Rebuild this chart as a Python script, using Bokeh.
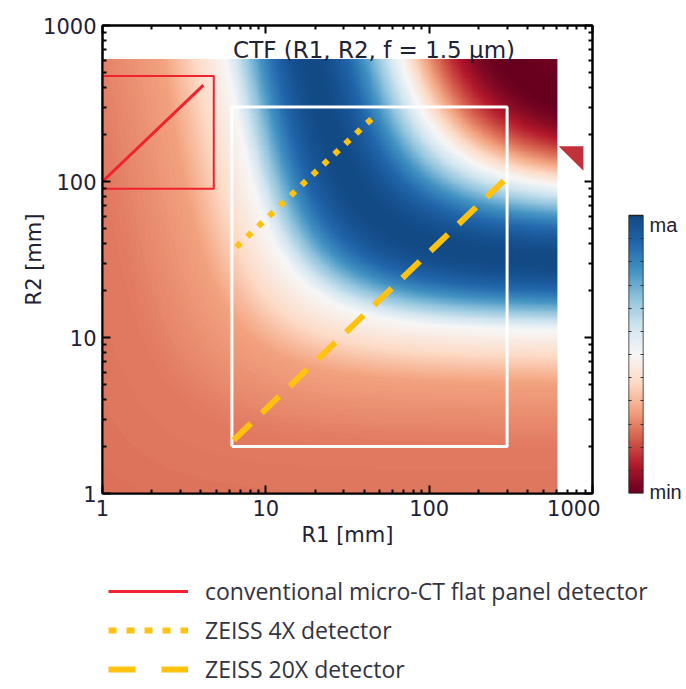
import numpy as np
from bokeh.plotting import figure
from bokeh.layouts import column, row
from bokeh.models import (LogAxis, LinearAxis, FixedTicker, NumeralTickFormatter, LinearColorMapper,
                          Legend, LegendItem, Range1d, Label)
from bokeh.embed import file_html
from bokeh.resources import INLINE

# ---------------- data ----------------
AXIS_TICKS = [1, 10, 100, 1000]
AXIS_MINOR = [m * 10 ** d for d in range(3) for m in range(2, 10)]
R_MIN, R_MAX = 1.0, 610.0

# CTF phase model: log10(z_eff * M^p) -> phase (knots)
MAG_EXP = 0.14
PHASE_U = [-0.5, 0.3, 0.7, 1.035, 1.477, 1.919, 2.361, 2.75]
PHASE_PSI = [-0.60, -0.55, -0.42, 0.0, 1.571, 3.142, 4.712, 5.4]

# detector regions / lines (R1, R2 in mm)
flat_box_r1 = [1, 4.8, 4.8, 1, 1]
flat_box_r2 = [90, 90, 475, 475, 90]
flat_line_r1 = [1, 4.15]
flat_line_r2 = [100, 415]
zeiss_box_r1 = [6.2, 300, 300, 6.2, 6.2]
zeiss_box_r2 = [2, 2, 300, 300, 2]
zeiss4_r1 = [6.6, 45.5]
zeiss4_r2 = [38, 258]
zeiss20_r1 = [6.35, 286]
zeiss20_r2 = [2.2, 101]
tri_r1 = [620, 880, 880]
tri_r2 = [168, 168, 117]

TITLE = "CTF (R1, R2, f = 1.5 μm)"
TITLE_R1, TITLE_R2 = 46, 700
LEGEND_LABELS = ["conventional micro-CT flat panel detector",
                 "ZEISS 4X detector", "ZEISS 20X detector"]
CB_TICKS = [0.93, -0.99]
CB_LABELS = {0.93: "ma", -0.99: "min"}
CB_MINOR = [-1 + 2 * k / 12 for k in range(1, 12)]
CB_TOP = -1 + 2 * 468 / 278   # colour bar covers the upper part of its column

RDBU = ['#67001f', '#b2182b', '#d6604d', '#f4a582', '#fddbc7', '#f7f7f7',
        '#d1e5f0', '#92c5de', '#4393c3', '#2166ac', '#124a86']

# ---------------- field ----------------
def hex2rgb(h):
    return [int(h[i:i + 2], 16) for i in (1, 3, 5)]

anch = np.array([hex2rgb(c) for c in RDBU], dtype=float)
tpos = np.linspace(0, 1, len(RDBU))
tt = np.linspace(0, 1, 256)
palette = ['#%02x%02x%02x' % tuple(int(round(np.interp(t, tpos, anch[:, k]))) for k in range(3)) for t in tt]

n = 500
lg = np.linspace(np.log10(R_MIN), np.log10(R_MAX), n)
R1, R2 = np.meshgrid(10 ** lg, 10 ** lg)
z = R1 * R2 / (R1 + R2)
M = (R1 + R2) / R1
u = np.log10(z * M ** MAG_EXP)
psi = np.interp(u, PHASE_U, PHASE_PSI)
ctf = np.sin(psi)

mapper = LinearColorMapper(palette=palette, low=-1, high=1)

FONT = "DejaVu Sans"
TXT = "#1e2233"
BT, BB = 25, 62     # shared top / bottom borders of the upper row

# ---------------- main plot ----------------
p = figure(x_axis_type="log", y_axis_type="log", frame_width=490, frame_height=468,
           x_range=Range1d(1, 1000), y_range=Range1d(1, 1000),
           output_backend="svg", toolbar_location=None,
           min_border_left=102, min_border_right=8, min_border_top=BT, min_border_bottom=BB)
p.grid.visible = False
p.outline_line_color = "black"
p.outline_line_width = 2

p.image(image=[ctf], x=R_MIN, y=R_MIN, dw=R_MAX - R_MIN, dh=R_MAX - R_MIN, color_mapper=mapper)
p.patch(tri_r1, tri_r2, fill_color="#c2313a", line_color=None)

p.line(flat_box_r1, flat_box_r2, line_color="#f0222e", line_width=2)
p.line(flat_line_r1, flat_line_r2, line_color="#f0222e", line_width=3)
p.line(zeiss_box_r1, zeiss_box_r2, line_color="white", line_width=3)
p.line(zeiss4_r1, zeiss4_r2, line_color="#ffc20e", line_width=6, line_dash="6 9")
p.line(zeiss20_r1, zeiss20_r2, line_color="#ffc20e", line_width=6, line_dash="24 15")

p.add_layout(Label(x=TITLE_R1, y=TITLE_R2, text=TITLE, text_align="center", text_baseline="middle",
                   text_font=FONT, text_font_size="23px", text_color=TXT))


def style_axis(ax, ticks, minor, labels=True):
    ax.ticker = FixedTicker(ticks=ticks, minor_ticks=minor)
    ax.axis_line_width = 2
    ax.axis_line_color = "black"
    ax.major_tick_in = 8
    ax.major_tick_out = 0
    ax.minor_tick_in = 4
    ax.minor_tick_out = 0
    ax.major_tick_line_width = 2
    ax.minor_tick_line_width = 2
    ax.major_tick_line_color = "black"
    ax.minor_tick_line_color = "black"
    if labels:
        ax.major_label_text_font = FONT
        ax.major_label_text_font_size = "21px"
        ax.major_label_text_color = TXT
        ax.major_label_standoff = 6
        ax.axis_label_text_font = FONT
        ax.axis_label_text_font_size = "21px"
        ax.axis_label_text_font_style = "normal"
        ax.axis_label_text_color = TXT
    else:
        ax.major_label_text_font_size = "1px"
        ax.major_label_text_color = None
        ax.major_label_standoff = 0


style_axis(p.xaxis[0], AXIS_TICKS, AXIS_MINOR)
style_axis(p.yaxis[0], AXIS_TICKS, AXIS_MINOR)
p.xaxis[0].formatter = NumeralTickFormatter(format="0")
p.yaxis[0].formatter = NumeralTickFormatter(format="0")
p.xaxis[0].axis_label = "R1 [mm]"
p.yaxis[0].axis_label = "R2 [mm]"
p.xaxis[0].axis_label_standoff = 4
p.yaxis[0].axis_label_standoff = -6

top = LogAxis()
right = LogAxis()
style_axis(top, AXIS_TICKS, AXIS_MINOR, False)
style_axis(right, AXIS_TICKS, AXIS_MINOR, False)
p.add_layout(top, "above")
p.add_layout(right, "right")

# ---------------- colour bar ----------------
cbf = figure(frame_width=15, frame_height=468,
             x_range=Range1d(0, 1), y_range=Range1d(-1, CB_TOP),
             output_backend="svg", toolbar_location=None,
             min_border_left=28, min_border_right=42, min_border_top=BT, min_border_bottom=BB)
cbf.grid.visible = False
cbf.xaxis.visible = False
cbf.yaxis.visible = False
cbf.outline_line_color = None
cbf.image(image=[np.linspace(-1, 1, 256).reshape(-1, 1)], x=0, y=-1, dw=1, dh=2, color_mapper=mapper)
cbf.quad(left=[0], right=[1], bottom=[-1], top=[1], fill_color=None, line_color="#222222", line_width=1.5)
cb_right = LinearAxis()
cb_left = LinearAxis()
for ax in (cb_right, cb_left):
    ax.ticker = FixedTicker(ticks=CB_TICKS, minor_ticks=CB_MINOR)
    ax.axis_line_color = None
    ax.major_tick_line_color = None
    ax.major_tick_in = 0
    ax.major_tick_out = 0
    ax.minor_tick_in = 3
    ax.minor_tick_out = 0
    ax.minor_tick_line_color = "#333333"
    ax.minor_tick_line_width = 1
cb_right.major_label_overrides = CB_LABELS
cb_right.major_label_text_font = "Liberation Sans"
cb_right.major_label_text_font_size = "20px"
cb_right.major_label_text_color = TXT
cb_right.major_label_standoff = 6
cb_left.major_label_text_font_size = "1px"
cb_left.major_label_text_color = None
cb_left.major_label_standoff = 0
cbf.add_layout(cb_right, "right")
cbf.add_layout(cb_left, "left")

# ---------------- legend ----------------
lf = figure(frame_width=584, frame_height=132, x_range=Range1d(0, 1), y_range=Range1d(0, 1),
            output_backend="svg", toolbar_location=None,
            min_border_left=102, min_border_right=0, min_border_top=0, min_border_bottom=0)
lf.grid.visible = False
lf.axis.visible = False
lf.outline_line_color = None
r_flat = lf.line([5, 6], [5, 6], line_color="#f0222e", line_width=3)
r_z4 = lf.line([5, 6], [5, 6], line_color="#ffc20e", line_width=6, line_dash="8 10")
r_z20 = lf.line([5, 6], [5, 6], line_color="#ffc20e", line_width=6, line_dash="27 26")
legend = Legend(items=[LegendItem(label=LEGEND_LABELS[0], renderers=[r_flat]),
                       LegendItem(label=LEGEND_LABELS[1], renderers=[r_z4]),
                       LegendItem(label=LEGEND_LABELS[2], renderers=[r_z20])],
                location=(6, 2), orientation="vertical", glyph_width=80, glyph_height=30,
                label_height=30, label_standoff=17, spacing=7, padding=0, margin=0,
                border_line_color=None, background_fill_color=None,
                label_text_font="Open Sans", label_text_font_size="23px", label_text_color="#333340")
lf.add_layout(legend, "center")

layout = column(row(p, cbf), lf)
open("out.html", "w").write(file_html(layout, INLINE))
